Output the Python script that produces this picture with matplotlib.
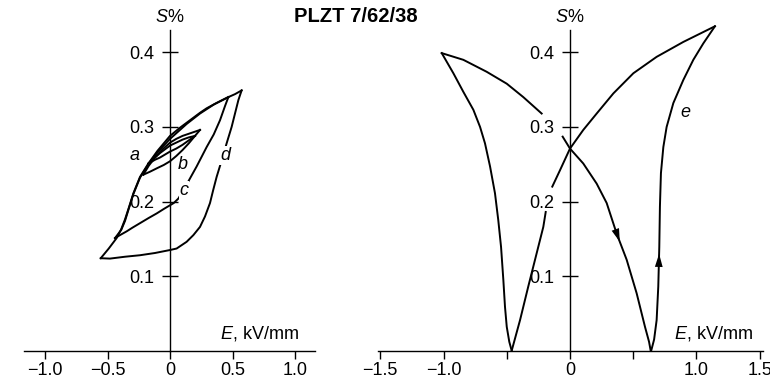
import numpy as np
import matplotlib
matplotlib.use("Agg")
import matplotlib.pyplot as plt

plt.rcParams['font.family'] = ['Liberation Sans', 'DejaVu Sans']
plt.rcParams['mathtext.fontset'] = 'custom'
plt.rcParams['mathtext.it'] = 'Liberation Sans:italic'
plt.rcParams['mathtext.rm'] = 'Liberation Sans'

# ---------------- data (E in kV/mm, S in %) ----------------
# Left panel: nested loops a, b, c, d
d_up_E = [-0.554, -0.49, -0.427, -0.39, -0.36, -0.325, -0.293, -0.24, -0.173, -0.1, 0.0, 0.08, 0.16, 0.24, 0.293, 0.37, 0.453, 0.52, 0.573]
d_up_S = [0.124, 0.137, 0.151, 0.163, 0.176, 0.194, 0.211, 0.233, 0.251, 0.268, 0.288, 0.299, 0.309, 0.319, 0.325, 0.332, 0.339, 0.344, 0.349]
d_dn_E = [0.573, 0.547, 0.52, 0.493, 0.453, 0.415, 0.373, 0.345, 0.32, 0.28, 0.24, 0.187, 0.133, 0.053, 0.0, -0.12, -0.24, -0.36, -0.48, -0.554]
d_dn_S = [0.349, 0.336, 0.318, 0.300, 0.278, 0.256, 0.233, 0.215, 0.198, 0.180, 0.166, 0.155, 0.146, 0.137, 0.135, 0.131, 0.128, 0.126, 0.1235, 0.124]

c_up_E = [-0.44, -0.39, -0.36, -0.325, -0.293, -0.24, -0.173, -0.1, 0.0, 0.133, 0.24, 0.35, 0.467]
c_up_S = [0.151, 0.162, 0.174, 0.193, 0.210, 0.232, 0.250, 0.266, 0.284, 0.304, 0.318, 0.330, 0.340]
c_dn_E = [0.467, 0.44, 0.4, 0.35, 0.293, 0.25, 0.213, 0.16, 0.11, 0.067, 0.03, 0.0, -0.05, -0.107, -0.17, -0.24, -0.30, -0.347, -0.40, -0.44]
c_dn_S = [0.340, 0.328, 0.309, 0.290, 0.273, 0.259, 0.247, 0.231, 0.216, 0.204, 0.198, 0.195, 0.190, 0.184, 0.178, 0.171, 0.165, 0.160, 0.155, 0.151]

b_up_E = [-0.213, -0.17, -0.12, -0.06, 0.0, 0.05, 0.1, 0.17, 0.24]
b_up_S = [0.236, 0.248, 0.259, 0.270, 0.279, 0.284, 0.288, 0.292, 0.296]
b_dn_E = [0.24, 0.19, 0.15, 0.1, 0.05, 0.0, -0.05, -0.1, -0.16, -0.213]
b_dn_S = [0.296, 0.286, 0.278, 0.269, 0.261, 0.254, 0.249, 0.245, 0.240, 0.236]

a_up_E = [-0.173, -0.12, -0.08, -0.04, 0.0, 0.05, 0.1, 0.15, 0.2]
a_up_S = [0.251, 0.259, 0.265, 0.270, 0.275, 0.279, 0.283, 0.286, 0.288]
a_dn_E = [0.2, 0.15, 0.1, 0.05, 0.0, -0.04, -0.08, -0.12, -0.173]
a_dn_S = [0.288, 0.282, 0.276, 0.271, 0.267, 0.263, 0.259, 0.256, 0.251]

# Right panel: butterfly loop e (nan = pen lifted)
e1_E = [-1.014, -0.922, -0.843, -0.764, -0.711, -0.672, -0.632, -0.593, -0.567, -0.545, -0.527, -0.514, -0.500, -0.480, -0.461]
e1_S = [0.399, 0.372, 0.347, 0.323, 0.300, 0.278, 0.247, 0.211, 0.175, 0.139, 0.095, 0.059, 0.032, 0.012, 0.0]
e2_E = [-0.461, -0.395, -0.33, -0.263, -0.211, -0.192, np.nan, -0.140, -0.079, 0.0, 0.105, 0.211, 0.343, 0.501, 0.685, 0.896, 1.146]
e2_S = [0.0, 0.041, 0.086, 0.131, 0.166, 0.186, np.nan, 0.220, 0.242, 0.271, 0.296, 0.318, 0.345, 0.372, 0.394, 0.414, 0.435]
e3_E = [1.146, 1.054, 0.975, 0.896, 0.817, 0.764, 0.738, 0.719, 0.711, 0.706, 0.698, 0.685, 0.665, 0.642]
e3_S = [0.435, 0.412, 0.390, 0.363, 0.332, 0.300, 0.273, 0.238, 0.193, 0.139, 0.086, 0.041, 0.015, 0.0]
e4_E = [0.638, 0.625, 0.593, 0.527, 0.448, 0.369, 0.29, 0.211, 0.105, 0.0, -0.058, np.nan, -0.224, -0.369, -0.5, -0.659, -0.843, -1.014]
e4_S = [0.0, 0.012, 0.032, 0.077, 0.122, 0.157, 0.198, 0.224, 0.251, 0.271, 0.287, np.nan, 0.318, 0.340, 0.358, 0.374, 0.390, 0.399]

# arrow heads: S level of tail and tip on the curves
arrow_down_S = (0.164, 0.146)   # on e4, pointing down
arrow_up_S = (0.112, 0.130)     # on e3, pointing up

left_xticks = [-1.0, -0.5, 0.0, 0.5, 1.0]
left_xlabels = ['\u22121.0', '\u22120.5', '0', '0.5', '1.0']
right_xticks = [-1.5, -1.0, -0.5, 0.0, 0.5, 1.0, 1.5]
right_xlabels = ['\u22121.5', '\u22121.0', '', '0', '', '1.0', '1.5']
yticks = [0.1, 0.2, 0.3, 0.4]
ylabels = ['0.1', '0.2', '0.3', '0.4']

title = 'PLZT 7/62/38'

# ---------------- figure ----------------
W, H = 770, 388
fig = plt.figure(figsize=(W / 100, H / 100), dpi=100)

yb = (H - 350.7) / H
hh = 320.7 / H
axL = fig.add_axes([24 / W, yb, 291 / W, hh])
axR = fig.add_axes([378 / W, yb, 385 / W, hh])

FS = 13
LW = 1.4

def style(ax, xlim, xt, xl):
    ax.set_xlim(*xlim)
    ax.set_ylim(0, 0.43)
    for s in ('top', 'right'):
        ax.spines[s].set_visible(False)
    ax.spines['left'].set_position(('data', 0))
    ax.spines['bottom'].set_position(('data', 0))
    ax.spines['left'].set_linewidth(1.0)
    ax.spines['bottom'].set_linewidth(1.0)
    ax.set_xticks(xt)
    ax.set_xticklabels(xl)
    ax.set_yticks(yticks)
    ax.set_yticklabels(ylabels)
    ax.tick_params(axis='x', direction='out', length=5.8, width=1.0, pad=2.6, labelsize=FS)
    ax.tick_params(axis='y', direction='inout', length=11.3, width=1.0, pad=5.6, labelsize=FS)
    ax.patch.set_visible(False)
    ax.text(0, 0.441, '$S$%', ha='center', va='baseline', fontsize=FS, clip_on=False)

style(axL, (-1.168, 1.16), left_xticks, left_xlabels)
style(axR, (-1.518, 1.526), right_xticks, right_xlabels)

axL.text(1.032, 0.017, '$E$, kV/mm', ha='right', va='baseline', fontsize=FS)
axR.text(1.449, 0.017, '$E$, kV/mm', ha='right', va='baseline', fontsize=FS)

kw = dict(color='black', lw=LW, solid_joinstyle='miter', clip_on=False)
for E, S in [(d_up_E, d_up_S), (d_dn_E, d_dn_S), (c_up_E, c_up_S), (c_dn_E, c_dn_S),
             (b_up_E, b_up_S), (b_dn_E, b_dn_S), (a_up_E, a_up_S), (a_dn_E, a_dn_S)]:
    axL.plot(E, S, **kw)
for E, S in [(e1_E, e1_S), (e2_E, e2_S), (e3_E, e3_S), (e4_E, e4_S)]:
    axR.plot(E, S, **kw)

lab = dict(fontsize=FS, fontstyle='italic', ha='center', va='center')
wb = dict(facecolor='white', edgecolor='none', pad=0.5)
axL.text(-0.28, 0.262, 'a', **lab)
axL.text(0.102, 0.249, 'b', **lab)
axL.text(0.112, 0.215, 'c', bbox=wb, zorder=5, **lab)
axL.text(0.44, 0.262, 'd', bbox=wb, zorder=5, **lab)
axR.text(0.909, 0.320, 'e', **lab)

# arrows placed on the curves
seg4_E = np.array(e4_E[:11]); seg4_S = np.array(e4_S[:11])
t0, t1 = arrow_down_S
p0 = (np.interp(t0, seg4_S, seg4_E), t0)
p1 = (np.interp(t1, seg4_S, seg4_E), t1)
aprops = dict(arrowstyle='-|>,head_length=0.95,head_width=0.28', color='black', lw=0,
              shrinkA=0, shrinkB=0, mutation_scale=10)
axR.annotate('', xy=p1, xytext=p0, arrowprops=aprops)
s3E = np.array(e3_E[::-1]); s3S = np.array(e3_S[::-1])
u0, u1 = arrow_up_S
q0 = (np.interp(u0, s3S, s3E), u0)
q1 = (np.interp(u1, s3S, s3E), u1)
axR.annotate('', xy=q1, xytext=q0, arrowprops=aprops)

fig.text(356 / W, 1 - 17 / H, title, ha='center', va='center', fontsize=14.5, fontweight='bold')

fig.savefig('out.png', dpi=100)
